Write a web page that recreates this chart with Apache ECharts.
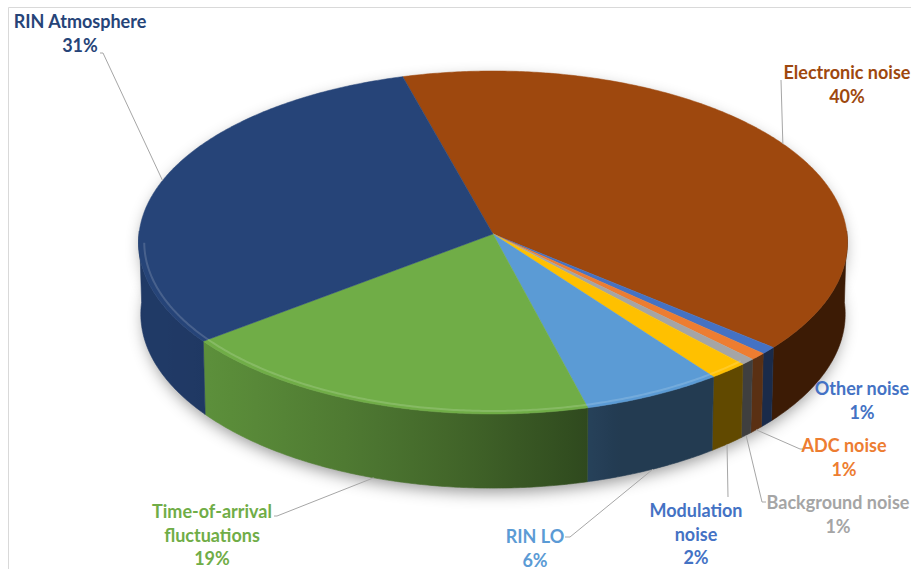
<!DOCTYPE html>
<html>
<head>
<meta charset="utf-8">
<title>Noise budget</title>
<script src="https://cdn.jsdelivr.net/npm/echarts@6/dist/echarts.min.js"></script>
<style>
  html, body { margin: 0; padding: 0; background: #ffffff; }
  #chart { width: 911px; height: 569px; }
</style>
</head>
<body>
<div id="chart"></div>
<script>
// Noise contributions, listed clockwise from the top of the pie
const categories = ['Electronic noise', 'Other noise', 'ADC noise', 'Background noise',
                    'Modulation noise', 'RIN LO', 'Time-of-arrival fluctuations', 'RIN Atmosphere'];
const shares = [40.4, 0.7, 0.7, 0.6, 1.7, 6.1, 18.7, 31.1];

// Slice and label colours (Office palette)
const sliceColors = ['#9E480E', '#4472C4', '#ED7D31', '#A5A5A5', '#FFC000', '#5B9BD5', '#70AD47', '#264478'];
const labelColors = ['#9E480E', '#4472C4', '#ED7D31', '#A5A5A5', '#4472C4', '#5B9BD5', '#70AD47', '#264478'];

// Label placement: centre of first text line, where the leader meets the label,
// and whether the leader starts on the top rim or the bottom rim of the slice
const labelLayout = [
  { x: 847, y: 72,  wrap: false, from: 'top',    hook: [781, 80] },
  { x: 862, y: 388, wrap: false, from: null },
  { x: 844, y: 445, wrap: false, from: 'bottom', hook: [800, 449], tail: [803, 449] },
  { x: 838, y: 502, wrap: false, from: 'bottom', hook: [762, 502], tail: [766, 502] },
  { x: 696, y: 510, wrap: true,  from: 'bottom', hook: [728, 497] },
  { x: 535, y: 536, wrap: false, from: 'bottom', hook: [570, 537], tail: [565, 537] },
  { x: 212, y: 511, wrap: true,  from: 'bottom', hook: [277, 516], tail: [274, 516] },
  { x: 80,  y: 21,  wrap: false, from: 'top',    hook: [103, 53], tail: [100, 53] }
];

const total = shares.reduce((a, b) => a + b, 0);
const cumulative = [];
{
  let acc = 0;
  shares.forEach((v, i) => { cumulative.push([acc, acc + v, v, i]); acc += v; });
}

// 3-D view of the disc: centre, horizontal radius, tilt, perspective and thickness
const VIEW = { cx: 493, cy: 234, s: 354, tilt: 28.9 * Math.PI / 180, k: 0.0566, h: 0.2325 };
const SA = Math.sin(VIEW.tilt), CA = Math.cos(VIEW.tilt);

function project(phi, r, depth) {
  const X = r * Math.sin(phi), Z = r * Math.cos(phi), Y = -depth * VIEW.h;
  const yc = Y * CA + Z * SA;
  const zc = 1 + VIEW.k * (-Y * SA + Z * CA);
  return [VIEW.cx + VIEW.s * X / zc, VIEW.cy - VIEW.s * yc / zc];
}

function hexToRgb(hex) {
  const n = parseInt(hex.slice(1), 16);
  return [(n >> 16) & 255, (n >> 8) & 255, n & 255];
}
function shade(hex, f) {
  const c = hexToRgb(hex).map(v => Math.max(0, Math.min(255, Math.round(v * f))));
  return 'rgb(' + c.join(',') + ')';
}
function tint(hex, t) {
  const c = hexToRgb(hex).map(v => Math.round(v + (255 - v) * t));
  return 'rgb(' + c.join(',') + ')';
}
// side walls are lit from the front-left
const LIGHT = 250 * Math.PI / 180;
function wallLight(phi) {
  return 0.38 + 0.47 * Math.max(0, Math.cos(phi - LIGHT));
}

function renderItem(params, api) {
  const i = params.dataIndex;
  const cs = params.coordSys;
  const v0 = api.value(0), v1 = api.value(1), val = api.value(2);
  const color = sliceColors[i];

  // value -> angle through the polar angle axis, clockwise from the top
  const steps = Math.max(4, Math.ceil((v1 - v0) / total * 720));
  const phis = [];
  let prev = null;
  for (let s = 0; s <= steps; s++) {
    const p = api.coord([1, v0 + (v1 - v0) * s / steps]);
    let phi = Math.atan2(p[0] - cs.cx, -(p[1] - cs.cy));
    if (prev !== null) { while (phi < prev - 1e-9) phi += 2 * Math.PI; }
    phis.push(phi);
    prev = phi;
  }

  const children = [];

  // soft drop shadow under the whole disc (drawn once)
  if (i === 0) {
    const ring = (depth) => {
      const pts = [];
      for (let a = 0; a < 360; a += 2) pts.push(project(a * Math.PI / 180, 0.99, depth));
      return pts;
    };
    [ring(1), ring(0)].forEach(pts => children.push({
      type: 'polygon', shape: { points: pts }, z2: 0, silent: true,
      style: { fill: '#ffffff', shadowBlur: 16, shadowColor: 'rgba(0,0,0,0.42)', shadowOffsetY: 6 }
    }));
  }

  // front-facing part of the outer side wall, with a horizontal light gradient
  const vis = phis.filter(p => Math.cos(p) < 0.02);
  if (vis.length > 1) {
    const topPts = vis.map(p => project(p, 1, 0));
    const botPts = vis.map(p => project(p, 1, 1)).reverse();
    const xs = topPts.map(p => p[0]);
    const xMin = Math.min.apply(null, xs), xMax = Math.max.apply(null, xs);
    const span = Math.max(1, xMax - xMin);
    const stride = Math.max(1, Math.floor(vis.length / 12));
    const stops = [];
    for (let s = 0; s < vis.length; s += stride) {
      stops.push({ offset: (xs[s] - xMin) / span, color: shade(color, wallLight(vis[s])) });
    }
    const last = vis.length - 1;
    stops.push({ offset: (xs[last] - xMin) / span, color: shade(color, wallLight(vis[last])) });
    stops.sort((a, b) => a.offset - b.offset);
    const grad = { type: 'linear', x: xMin, y: 0, x2: xMin + span, y2: 0, global: true, colorStops: stops };
    children.push({
      type: 'polygon', z2: 2, silent: true,
      shape: { points: topPts.concat(botPts) },
      style: { fill: grad, stroke: grad, lineWidth: 0.6 }
    });
  }

  // top face
  const top = [project(0, 0, 0)].concat(phis.map(p => project(p, 1, 0)));
  children.push({
    type: 'polygon', z2: 5, silent: true,
    shape: { points: top },
    style: { fill: color, stroke: color, lineWidth: 0.5 }
  });

  // bevel highlight along the front rim
  let run = [];
  const flush = () => {
    if (run.length > 1) {
      children.push({
        type: 'polyline', z2: 6, silent: true,
        shape: { points: run },
        style: { stroke: tint(color, 0.24), lineWidth: 2, opacity: 0.65, fill: null }
      });
    }
    run = [];
  };
  phis.forEach(p => {
    const w = Math.cos(p - 215 * Math.PI / 180);
    if (Math.cos(p) < -0.05 && w > 0.2) run.push(project(p, 0.984, 0));
    else flush();
  });
  flush();

  // data label with leader line
  const lay = labelLayout[i];
  const pct = Math.round(val / total * 100) + '%';
  const name = categories[i];
  const lines = (lay.wrap ? name.split(' ') : [name]).concat([pct]);
  const LH = 23.5;
  children.push({
    type: 'text', z2: 9, silent: true,
    style: {
      text: lines.join('\n'), x: lay.x, y: lay.y - LH / 2,
      align: 'center', verticalAlign: 'top', textAlign: 'center', textVerticalAlign: 'top',
      fontFamily: 'Lato', fontWeight: 'bold', fontSize: 18, lineHeight: LH,
      fill: labelColors[i]
    }
  });
  if (lay.from) {
    const midPhi = (phis[0] + phis[phis.length - 1]) / 2;
    const anchor = project(midPhi, 1, lay.from === 'top' ? 0 : 1);
    const pts = [anchor, lay.hook];
    if (lay.tail) pts.push(lay.tail);
    children.push({
      type: 'polyline', z2: 8, silent: true,
      shape: { points: pts },
      style: { stroke: '#a6a6a6', lineWidth: 1, fill: null }
    });
  }

  return { type: 'group', children: children };
}

const chart = echarts.init(document.getElementById('chart'), null, { renderer: 'svg' });
chart.setOption({
  backgroundColor: '#ffffff',
  animation: false,
  polar: { center: [VIEW.cx, VIEW.cy], radius: 150 },
  angleAxis: { type: 'value', min: 0, max: total, startAngle: 105.5, clockwise: true, show: false },
  radiusAxis: { type: 'value', min: 0, max: 1, show: false },
  graphic: [{
    type: 'rect', silent: true, z: -1,
    shape: { x: 8.5, y: 7.5, width: 1000, height: 1000 },
    style: { fill: 'none', stroke: '#d9d9d9', lineWidth: 1 }
  }],
  series: [{
    type: 'custom',
    coordinateSystem: 'polar',
    renderItem: renderItem,
    data: cumulative,
    encode: { radius: 2, angle: 0 }
  }]
});
</script>
</body>
</html>
